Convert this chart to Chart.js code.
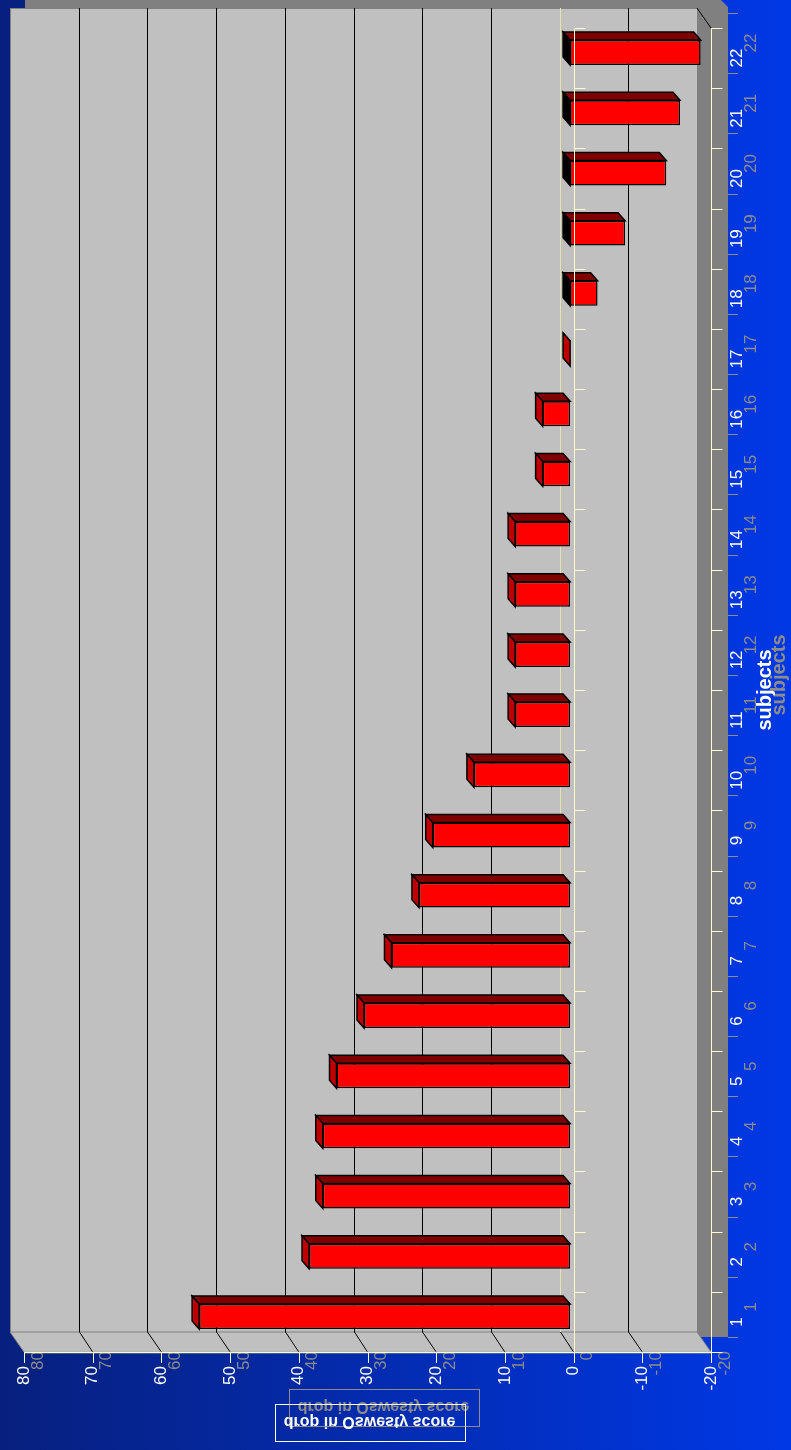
<!DOCTYPE html>
<html><head><meta charset="utf-8">
<script src="https://cdn.jsdelivr.net/npm/chart.js@4.4.0/dist/chart.umd.min.js"></script>
<style>
html,body{margin:0;padding:0;background:#0a2a9a;}
#wrap{position:relative;width:791px;height:1450px;}
canvas{display:block;}
</style></head><body>
<div id="wrap"><canvas id="c" width="791" height="1450"></canvas></div>
<script>
// ---- data ----
const categories = ['1','2','3','4','5','6','7','8','9','10','11','12','13','14','15','16','17','18','19','20','21','22'];
const dropValues = [54,38,36,36,34,30,26,22,20,14,8,8,8,8,4,4,0,-4,-8,-14,-16,-19];
const valueTicks = [80,70,60,50,40,30,20,10,0,-10,-20];
const valueTitle = 'drop in Oswesty score';
const categoryTitle = 'subjects';

// ---- 3D styling constants ----
const FX = 3.5, FY = 5.5;     // bar plane -> front plane
const BX = -10.5, BY = -14.5; // bar plane -> back plane
const DX = -7, DY = -8;       // bar depth
const FONT = '"Liberation Sans", Arial, sans-serif';
const PALE = '#ffffcc';
const GHOST = '#8c8c8c';
const LABEL = '#fffff0';

function poly(ctx, pts, fill, stroke, lw) {
  ctx.beginPath();
  ctx.moveTo(pts[0][0], pts[0][1]);
  for (let i = 1; i < pts.length; i++) ctx.lineTo(pts[i][0], pts[i][1]);
  ctx.closePath();
  if (fill) { ctx.fillStyle = fill; ctx.fill(); }
  if (stroke) { ctx.strokeStyle = stroke; ctx.lineWidth = lw || 1; ctx.stroke(); }
}
function line(ctx, x1, y1, x2, y2, color, lw) {
  ctx.beginPath(); ctx.moveTo(x1, y1); ctx.lineTo(x2, y2);
  ctx.strokeStyle = color; ctx.lineWidth = lw || 1; ctx.stroke();
}
function geom(chart) {
  const xs = chart.scales.x, ys = chart.scales.y, a = chart.chartArea;
  const fx = v => xs.getPixelForValue(v) + FX;
  const bx = v => xs.getPixelForValue(v) + BX;
  const band = (a.bottom - a.top) / categories.length;
  return {xs, ys, a, fx, bx, band,
    fTop: a.top + FY, fBot: a.bottom + FY, bTop: a.top + BY, bBot: a.bottom + BY,
    fL: fx(80), fR: fx(-20), bL: bx(80), bR: bx(-20)};
}
function rotText(ctx, text, x, y, align, color, font) {
  ctx.save();
  ctx.translate(x, y);
  ctx.rotate(-Math.PI / 2);
  ctx.font = font; ctx.fillStyle = color;
  ctx.textAlign = align; ctx.textBaseline = 'middle';
  ctx.fillText(text, 0, 0);
  ctx.restore();
}
function drawLabels(ctx, g, color, ox, oy) {
  const f = '17px ' + FONT;
  valueTicks.forEach(v => rotText(ctx, String(v), g.fx(v) + ox, g.fBot + 14 + oy, 'right', color, f));
  categories.forEach((c, i) => {
    const yc = g.ys.getPixelForValue(i) + FY;
    rotText(ctx, c, g.fR + 26 + ox, yc + oy, 'center', color, f);
  });
  rotText(ctx, categoryTitle, g.fR + 54 + ox, (g.fTop + g.fBot) / 2 + oy, 'center', color, 'bold 20px ' + FONT);
  // flipped value-axis title with box
  const cx = (g.fL + g.fR) / 2 + 2 + ox, cy = g.fBot + 70 + oy;
  ctx.save();
  ctx.strokeStyle = color; ctx.lineWidth = 1;
  ctx.strokeRect(Math.round(cx - 95) + 0.5, Math.round(cy - 18) + 0.5, 190, 37);
  ctx.translate(cx, cy);
  ctx.scale(1, -1);
  ctx.font = 'bold 16px ' + FONT; ctx.fillStyle = color;
  ctx.textAlign = 'center'; ctx.textBaseline = 'middle';
  ctx.fillText(valueTitle, 0, 1);
  ctx.restore();
}

const threeD = {
  id: 'threeD',
  beforeDraw(chart) {
    const ctx = chart.ctx, g = geom(chart);
    ctx.save();
    const grad = ctx.createLinearGradient(0, 0, chart.width, 0);
    grad.addColorStop(0, '#07207e');
    grad.addColorStop(1, '#0038e6');
    ctx.fillStyle = grad;
    ctx.fillRect(0, 0, chart.width, chart.height);
    // ghost (shadow) labels
    drawLabels(ctx, g, GHOST, 14, -15);
    ctx.restore();
  },
  beforeDatasetsDraw(chart) {
    const ctx = chart.ctx, g = geom(chart);
    ctx.save();
    // dark frame (top strip + right floor)
    poly(ctx, [[g.bL + 15, g.bTop - 9], [g.fR + 9, g.bTop - 9], [g.fR + 17, g.bTop - 1],
      [g.fR + 17, g.fBot - 15], [g.bR, g.fBot - 15], [g.bR, g.bTop], [g.bL + 15, g.bTop]], '#808080');
    // ghost ticks on the right
    for (let i = 0; i <= categories.length; i++) {
      const y = Math.round(g.fTop + i * g.band - 15) + 0.5;
      line(ctx, g.fR + 17, y, g.fR + 27, y, GHOST, 1);
    }
    // back wall
    ctx.fillStyle = '#c0c0c0';
    ctx.fillRect(g.bL, g.bTop, g.bR - g.bL, g.bBot - g.bTop);
    ctx.strokeStyle = '#808080'; ctx.lineWidth = 1;
    ctx.strokeRect(Math.round(g.bL) + 0.5, Math.round(g.bTop) + 0.5, g.bR - g.bL, g.bBot - g.bTop);
    // bottom wall
    poly(ctx, [[g.bL, g.bBot], [g.bR, g.bBot], [g.fR, g.fBot], [g.fL, g.fBot]], '#c0c0c0', '#808080', 1);
    // gridlines
    valueTicks.forEach(v => {
      if (v === 80 || v === -20) return;
      const xb = Math.round(g.bx(v)) + 0.5;
      line(ctx, xb, g.bTop, xb, g.bBot, v === 0 ? '#e4e4b0' : '#000000', 1);
      line(ctx, xb, g.bBot, g.fx(v), g.fBot, '#000000', 1);
    });
    line(ctx, g.bR, g.bTop, g.fR, g.fTop, '#000000', 1);
    // bar depth faces (top + end face)
    const meta = chart.getDatasetMeta(0);
    meta.data.forEach((el, i) => {
      const p = el.getProps(['x', 'y', 'base', 'height'], true);
      const left = Math.min(p.x, p.base), right = Math.max(p.x, p.base);
      const top = p.y - p.height / 2, bottom = p.y + p.height / 2;
      poly(ctx, [[left, top], [right, top], [right + DX, top + DY], [left + DX, top + DY]], '#800000', '#000', 1.5);
      poly(ctx, [[left, top], [left + DX, top + DY], [left + DX, bottom + DY], [left, bottom]],
        dropValues[i] < 0 ? '#000000' : '#c00000', '#000', 1.5);
    });
    ctx.restore();
  },
  afterDatasetsDraw(chart) {
    const ctx = chart.ctx, g = geom(chart);
    ctx.save();
    const x0 = Math.round(g.fx(0)) + 0.5, xr = Math.round(g.fR) + 0.5, yb = Math.round(g.fBot) + 0.5;
    line(ctx, x0, g.fTop, x0, g.fBot, PALE, 1);
    line(ctx, xr, g.fTop, xr, g.fBot, PALE, 1);
    line(ctx, g.fL, yb, g.fR, yb, PALE, 1.5);
    for (let i = 0; i <= categories.length; i++) {
      const y = Math.round(g.fTop + i * g.band) + 0.5;
      line(ctx, x0, y, x0 + 11, y, PALE, 1);
      line(ctx, xr, y, xr + 11, y, PALE, 1);
    }
    valueTicks.forEach(v => {
      const x = Math.round(g.fx(v)) + 0.5;
      line(ctx, x, g.fBot, x, g.fBot + 11, PALE, 1);
    });
    drawLabels(ctx, g, LABEL, 0, 0);
    ctx.restore();
  }
};

new Chart(document.getElementById('c'), {
  type: 'bar',
  data: {
    labels: categories,
    datasets: [{
      data: dropValues,
      backgroundColor: '#ff0000',
      borderColor: '#000000',
      borderWidth: 1.5,
      borderSkipped: false,
      barPercentage: 0.415,
      categoryPercentage: 1
    }]
  },
  options: {
    indexAxis: 'y',
    responsive: false,
    animation: false,
    devicePixelRatio: 1,
    layout: {padding: {left: 20.5, right: 83.5, top: 22.5, bottom: 103.5}},
    plugins: {legend: {display: false}, tooltip: {enabled: false}, title: {display: false}},
    scales: {
      x: {type: 'linear', min: -20, max: 80, reverse: true, position: 'bottom',
          ticks: {display: false, stepSize: 10}, grid: {display: false}, border: {display: false},
          afterFit(s) { s.height = 0; }},
      y: {type: 'category', reverse: true, position: 'right',
          ticks: {display: false}, grid: {display: false}, border: {display: false},
          afterFit(s) { s.width = 0; }}
    }
  },
  plugins: [threeD]
});
</script>
</body></html>
